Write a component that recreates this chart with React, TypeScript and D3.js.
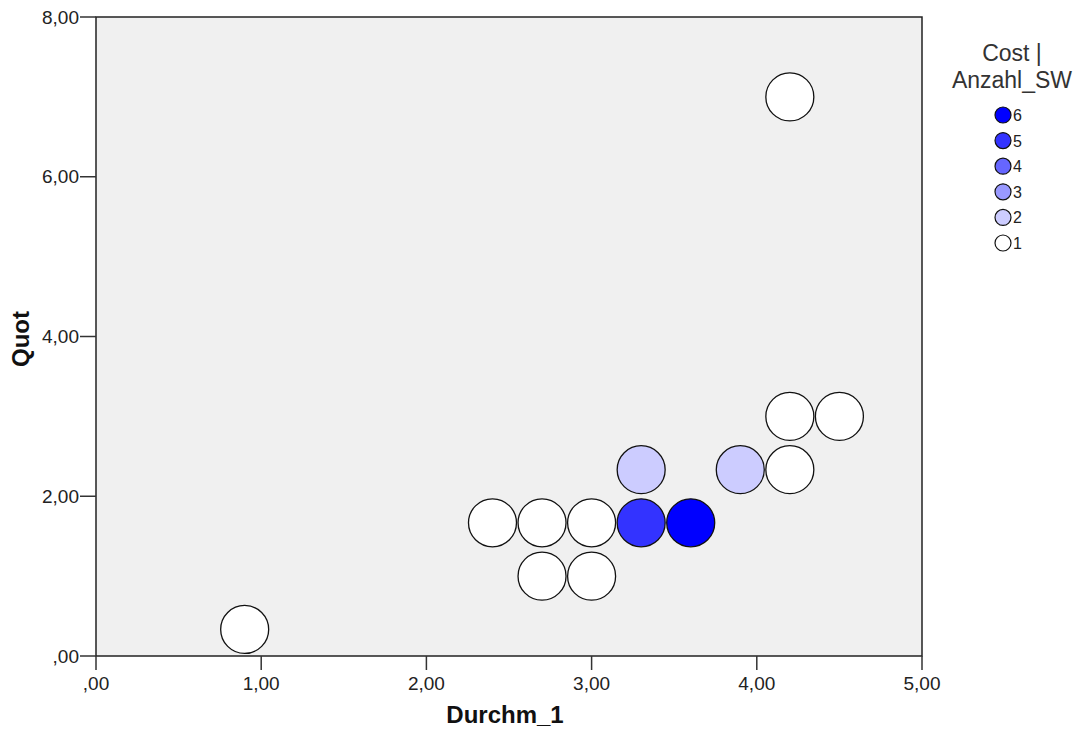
import React from "react";
import * as d3 from "d3";

const durchm = [0.9, 4.2, 4.2, 4.5, 4.2, 3.9, 3.3, 2.4, 2.7, 3.0, 3.3, 3.6, 2.7, 3.0];
const quot = [0.333, 7.0, 3.0, 3.0, 2.333, 2.333, 2.333, 1.667, 1.667, 1.667, 1.667, 1.667, 1.0, 1.0];
const anzahl = [1, 1, 1, 1, 1, 2, 2, 1, 1, 1, 5, 6, 1, 1];
const legendLevels = [6, 5, 4, 3, 2, 1];
const levelColors = ["#ffffff", "#ccccff", "#9999ff", "#6666ff", "#3333ff", "#0000ff"];
const xTicks = [0, 1, 2, 3, 4, 5];
const yTicks = [0, 2, 4, 6, 8];

const fmt = (v: number) => (v === 0 ? ",00" : v.toFixed(2).replace(".", ","));

export default function App() {
  const left = 96, right = 922, top = 17, bottom = 656;
  const x = d3.scaleLinear().domain([0, 5]).range([left, right]);
  const y = d3.scaleLinear().domain([0, 8]).range([bottom, top]);
  const color = d3.scaleOrdinal<number, string>().domain([1, 2, 3, 4, 5, 6]).range(levelColors);
  const font = "Arial, 'Liberation Sans', sans-serif";
  return (
    <svg width={1080} height={733} style={{ position: "absolute", left: 0, top: 0 }} fontFamily={font}>
      <rect x={0} y={0} width={1080} height={733} fill="#fff" />
      <rect x={left} y={top} width={right - left} height={bottom - top} fill="#f0f0f0" stroke="#222" strokeWidth={1.5} />
      {yTicks.map((t) => (
        <g key={"y" + t}>
          <line x1={left - 16} x2={left} y1={y(t)} y2={y(t)} stroke="#333" strokeWidth={1.5} />
          <text x={left - 17} y={y(t)} dy="0.35em" textAnchor="end" fontSize={19} fill="#222">{fmt(t)}</text>
        </g>
      ))}
      {xTicks.map((t) => (
        <g key={"x" + t}>
          <line x1={x(t)} x2={x(t)} y1={bottom} y2={bottom + 14} stroke="#333" strokeWidth={1.5} />
          <text x={x(t)} y={690} textAnchor="middle" fontSize={19} fill="#222">{fmt(t)}</text>
        </g>
      ))}
      {durchm.map((d, i) => (
        <circle key={i} cx={x(d)} cy={y(quot[i])} r={24} fill={color(anzahl[i])} stroke="#111" strokeWidth={1.3} />
      ))}
      <text x={505} y={723} textAnchor="middle" fontSize={24} fontWeight="bold" fill="#111">Durchm_1</text>
      <text transform={`translate(29,339) rotate(-90)`} textAnchor="middle" fontSize={24} fontWeight="bold" fill="#111">Quot</text>
      <text x={1012} y={61} textAnchor="middle" fontSize={23} fill="#333">Cost |</text>
      <text x={1012} y={88} textAnchor="middle" fontSize={23} fill="#333">Anzahl_SW</text>
      {legendLevels.map((l, i) => (
        <g key={"l" + l}>
          <circle cx={1003} cy={115 + i * 25.6} r={8} fill={color(l)} stroke="#111" strokeWidth={1.2} />
          <text x={1013} y={115 + i * 25.6 + 6} fontSize={16} fill="#222">{l}</text>
        </g>
      ))}
    </svg>
  );
}
